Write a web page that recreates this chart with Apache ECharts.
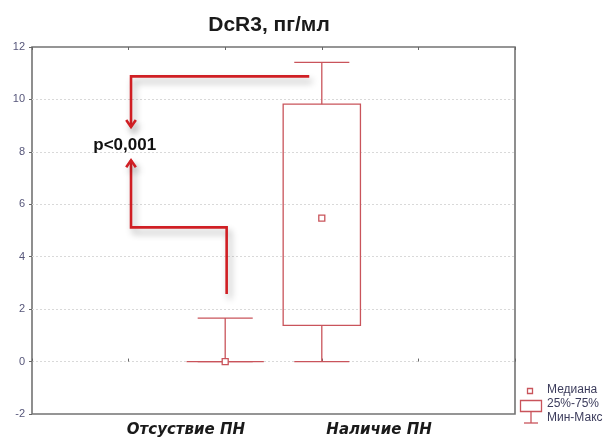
<!DOCTYPE html>
<html>
<head>
<meta charset="utf-8">
<script src="https://cdn.jsdelivr.net/npm/echarts@6/dist/echarts.min.js"></script>
<style>
  html, body { margin: 0; padding: 0; background: #fff; }
  #chart { width: 603px; height: 439px; }
</style>
</head>
<body>
<div id="chart"></div>
<script>
// данные
var titleText = "DcR3, пг/мл";
var categories = ["Отсуствие ПН", "Наличие ПН"];
// [min, q1, median, q3, max]
var boxValues = [
  [0, 0, 0, 0, 1.66],
  [0, 1.38, 5.47, 9.82, 11.41]
];
var yTicks = { min: -2, max: 12, step: 2 };
var pText = "p<0,001";
// стрелки (в координатах осей)
var arrowTop = [[2.87, 10.88], [1.025, 10.88], [1.025, 8.95]];
var arrowBottom = [[2.015, 2.58], [2.015, 5.12], [1.025, 5.12], [1.025, 7.68]];
var pPoint = [0.96, 8.25];
var legendNames = ["Медиана", "25%-75%", "Мин-Макс"];

var red = "#c9545b";
var arrowRed = "#d01f24";
var arrowPaths = [arrowTop, arrowBottom];
var chart = echarts.init(document.getElementById("chart"));

var arrowStyle = {
  stroke: arrowRed,
  lineWidth: 2.6,
  fill: null,
  lineJoin: "miter",
  shadowBlur: 7,
  shadowColor: "rgba(0,0,0,0.33)",
  shadowOffsetX: 3,
  shadowOffsetY: 5
};

var option = {
  animation: false,
  title: {
    text: titleText,
    left: 264,
    top: 10,
    textAlign: "center",
    textStyle: { fontFamily: "Liberation Sans", fontSize: 21, fontWeight: "bold", color: "#1a1a1a" }
  },
  grid: {
    left: 32, right: 88, top: 47, bottom: 25,
    show: true,
    borderColor: "#737373",
    borderWidth: 1.6
  },
  xAxis: [
    {
      type: "value", min: 0, max: 5, interval: 1,
      axisLine: { show: false },
      axisTick: { show: true, inside: true, length: 3, lineStyle: { color: "#666" } },
      axisLabel: { show: false },
      splitLine: { show: false }
    },
    {
      // подписи групп
      type: "category",
      position: "bottom",
      boundaryGap: true,
      data: ["", categories[0], "", categories[1], ""],
      axisLine: { show: false },
      axisTick: { show: false },
      axisLabel: {
        interval: 0,
        margin: 9,
        padding: [0, 0, 0, 18],
        fontFamily: "DejaVu Sans",
        fontSize: 15,
        fontStyle: "italic",
        fontWeight: "bold",
        color: "#1a1a1a"
      }
    },
    {
      type: "value", position: "top", min: 0, max: 5, interval: 1,
      axisLine: { show: false },
      axisTick: { show: true, inside: true, length: 3, lineStyle: { color: "#666" } },
      axisLabel: { show: false },
      splitLine: { show: false }
    }
  ],
  yAxis: [
    {
      type: "value",
      min: yTicks.min, max: yTicks.max, interval: yTicks.step,
      axisLine: { show: false },
      axisTick: { show: false },
      axisLabel: { margin: 7, fontFamily: "Liberation Sans", fontSize: 11, color: "#56567a" },
      splitLine: {
        show: true,
        showMinLine: false,
        showMaxLine: false,
        lineStyle: { color: "#d9d9d9", type: [2, 2], width: 1 }
      }
    },
    {
      type: "value", position: "right",
      min: yTicks.min, max: yTicks.max, interval: yTicks.step,
      axisLine: { show: false },
      axisTick: { show: true, inside: true, length: 3, lineStyle: { color: "#666" } },
      axisLabel: { show: false },
      splitLine: { show: false }
    }
  ],
  series: [
    {
      name: "box",
      type: "custom",
      xAxisIndex: 0,
      yAxisIndex: 0,
      data: boxValues.map(function (v, i) { return [i + 2].concat(v); }),
      renderItem: function (params, api) {
        var x = api.value(0);
        var band = api.size([1, 0])[0];
        var boxW = band * 0.8;
        var capW = band * 0.57;
        var pMin = api.coord([x, api.value(1)]);
        var pQ1 = api.coord([x, api.value(2)]);
        var pMed = api.coord([x, api.value(3)]);
        var pQ3 = api.coord([x, api.value(4)]);
        var pMax = api.coord([x, api.value(5)]);
        var cx = pMin[0];
        var st = { stroke: red, lineWidth: 1.3, fill: null };
        var line = function (x1, y1, x2, y2) {
          return { type: "line", shape: { x1: x1, y1: y1, x2: x2, y2: y2 }, style: st };
        };
        return {
          type: "group",
          children: [
            line(cx, pQ3[1], cx, pMax[1]),
            line(cx - capW / 2, pMax[1], cx + capW / 2, pMax[1]),
            line(cx, pMin[1], cx, pQ1[1]),
            line(cx - capW / 2, pMin[1], cx + capW / 2, pMin[1]),
            {
              type: "rect",
              shape: { x: cx - boxW / 2, y: pQ3[1], width: boxW, height: pQ1[1] - pQ3[1] },
              style: st
            },
            {
              type: "rect",
              shape: { x: cx - 3, y: pMed[1] - 3, width: 6, height: 6 },
              style: { stroke: red, lineWidth: 1.3, fill: "#fff" }
            }
          ]
        };
      }
    },
    {
      // стрелки к p
      type: "custom",
      xAxisIndex: 0,
      yAxisIndex: 0,
      data: arrowPaths.map(function (a, i) { return [i]; }),
      renderItem: function (params, api) {
        var pts = arrowPaths[api.value(0)].map(function (p) { return api.coord(p); });
        var n = pts.length;
        var tip = pts[n - 1], prev = pts[n - 2];
        var dx = tip[0] - prev[0], dy = tip[1] - prev[1];
        var len = Math.sqrt(dx * dx + dy * dy);
        dx /= len; dy /= len;
        var back = 7, half = 4.8;
        var head = [
          [tip[0] - dx * back - dy * half, tip[1] - dy * back + dx * half],
          [tip[0], tip[1]],
          [tip[0] - dx * back + dy * half, tip[1] - dy * back - dx * half]
        ];
        return {
          type: "group",
          children: [
            { type: "polyline", shape: { points: pts }, style: arrowStyle },
            { type: "polyline", shape: { points: head }, style: arrowStyle }
          ]
        };
      },
      z: 3
    },
    {
      type: "scatter",
      xAxisIndex: 0,
      yAxisIndex: 0,
      symbolSize: 0,
      itemStyle: { opacity: 1 },
      data: [pPoint],
      label: {
        show: true,
        position: "inside",
        formatter: pText,
        fontFamily: "Liberation Sans",
        fontSize: 17,
        fontWeight: "bold",
        color: "#111"
      },
      z: 4
    }
  ],
  graphic: [
    // легенда
    { type: "rect", shape: { x: 527.5, y: 388.5, width: 5, height: 5 }, style: { stroke: red, lineWidth: 1.3, fill: "#fff" } },
    { type: "rect", shape: { x: 520.5, y: 400.5, width: 21, height: 11 }, style: { stroke: red, lineWidth: 1.3, fill: null } },
    { type: "line", shape: { x1: 531, y1: 411.5, x2: 531, y2: 423 }, style: { stroke: red, lineWidth: 1.3 } },
    { type: "line", shape: { x1: 524, y1: 423, x2: 538, y2: 423 }, style: { stroke: red, lineWidth: 1.3 } },
    { type: "text", left: 547, top: 384, style: { text: legendNames[0], font: "12px 'Liberation Sans'", fill: "#3c3c5c" } },
    { type: "text", left: 547, top: 398, style: { text: legendNames[1], font: "12px 'Liberation Sans'", fill: "#3c3c5c" } },
    { type: "text", left: 547, top: 412, style: { text: legendNames[2], font: "12px 'Liberation Sans'", fill: "#3c3c5c" } }
  ]
};

chart.setOption(option);
window.addEventListener("resize", function () { chart.resize(); });
</script>
</body>
</html>
